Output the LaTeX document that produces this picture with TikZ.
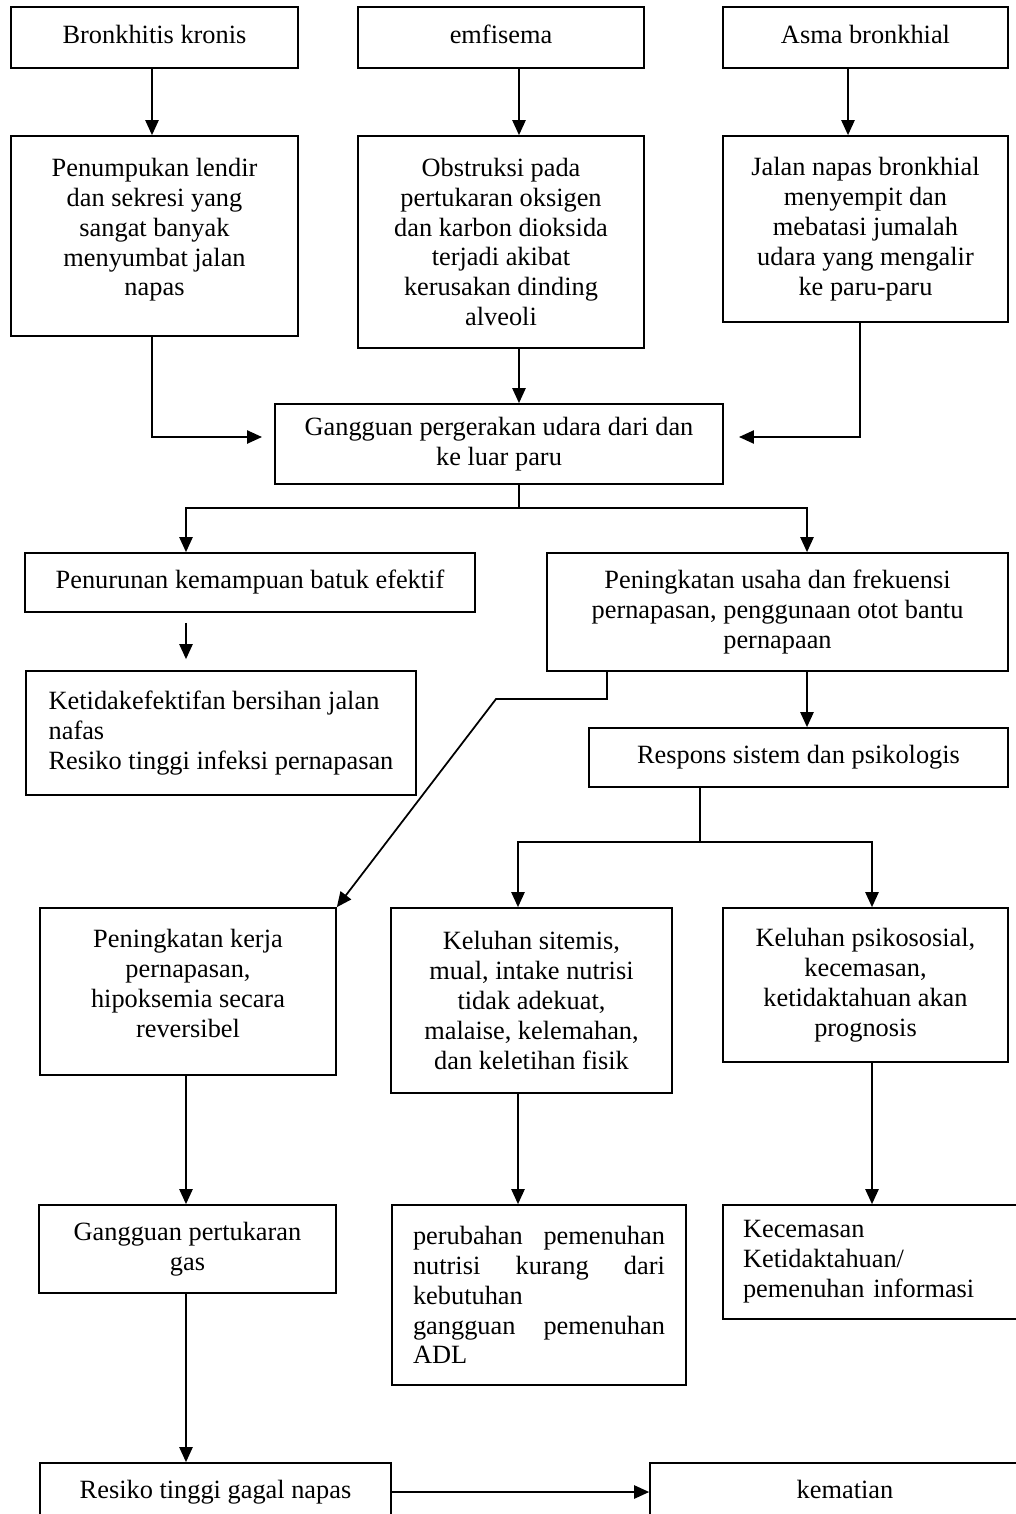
\documentclass[tikz,border=0pt]{standalone}
\usepackage{fontspec}
\setmainfont{Liberation Serif}
\usepackage{tikz}
\usetikzlibrary{arrows.meta,calc,positioning}

\tikzset{
  box/.style={draw, line width=1pt, align=center, inner sep=0pt,
    font=\fontsize{15}{17}\selectfont},
  lbox/.style={box, align=left, inner xsep=0.4cm},
  one/.style={text height=10.5pt, text depth=3.5pt},
  arr/.style={line width=1pt, -{Triangle[length=8.5pt,width=7.5pt]}}
}
\newcommand{\lift}[1]{\rule[-#1]{0pt}{#1}}

\begin{document}
\begin{tikzpicture}[x=0.02cm, y=-0.02cm]
\useasboundingbox (0,0) rectangle (1016,1514);

% causes
\node[box, one, minimum width=5.74cm, minimum height=1.22cm] (b1) at (154.5,37.5) {Bronkhitis kronis};
\node[box, one, minimum width=5.72cm, minimum height=1.22cm] (b2) at (501,37.5) {emfisema};
\node[box, one, minimum width=5.70cm, minimum height=1.22cm] (b3) at (865.5,37.5) {Asma bronkhial};

\node[box, minimum width=5.74cm, minimum height=4.0cm] (c1) at (154.5,236)
  {Penumpukan lendir\\dan sekresi yang\\sangat banyak\\menyumbat jalan\\napas\lift{0.36cm}};
\node[box, minimum width=5.72cm, minimum height=4.24cm] (c2) at (501,242)
  {Obstruksi pada\\pertukaran oksigen\\dan karbon dioksida\\terjadi akibat\\kerusakan dinding\\alveoli};
\node[box, minimum width=5.70cm, minimum height=3.72cm] (c3) at (865.5,229)
  {Jalan napas bronkhial\\menyempit dan\\mebatasi jumalah\\udara yang mengalir\\ke paru-paru};

\node[box, minimum width=8.96cm, minimum height=1.6cm] (d) at (499,444)
  {Gangguan pergerakan udara dari dan\\ke luar paru};

% second level
\node[box, one, minimum width=9.0cm, minimum height=1.18cm] (e1) at (250,582.5)
  {Penurunan kemampuan batuk efektif};
\node[box, minimum width=9.22cm, minimum height=2.36cm] (e2) at (777.5,612)
  {Peningkatan usaha dan frekuensi\\pernapasan, penggunaan otot bantu\\pernapaan};
\node[box, align=left, minimum width=7.8cm, minimum height=2.48cm] (f1) at (221,733)
  {Ketidakefektifan bersihan jalan\\nafas\\Resiko tinggi infeksi pernapasan};
\node[box, one, minimum width=8.38cm, minimum height=1.18cm] (g) at (798.5,757.5)
  {Respons sistem dan psikologis};

% third level
\node[box, minimum width=5.92cm, minimum height=3.34cm] (h1) at (188,991.5)
  {Peningkatan kerja\\pernapasan,\\hipoksemia secara\\reversibel\lift{0.32cm}};
\node[box, minimum width=5.62cm, minimum height=3.70cm] (h2) at (531.5,1000.5)
  {Keluhan sitemis,\\mual, intake nutrisi\\tidak adekuat,\\malaise, kelemahan,\\dan keletihan fisik};
\node[box, minimum width=5.70cm, minimum height=3.08cm] (h3) at (865.5,985)
  {Keluhan psikososial,\\kecemasan,\\ketidaktahuan akan\\prognosis};

\node[box, minimum width=5.94cm, minimum height=1.76cm] (i1) at (187.5,1249)
  {Gangguan pertukaran\\gas};
\node[lbox, inner xsep=0.42cm, text width=5.04cm, minimum height=3.6cm] (i2) at (539,1295)
  {perubahan\hfill pemenuhan\\nutrisi\hfill kurang\hfill dari\\kebutuhan\\gangguan\hfill pemenuhan\\ADL};
\node[lbox, text width=5.34cm, minimum height=2.28cm] (i3) at (876.5,1262)
  {Kecemasan\\Ketidaktahuan/\\pemenuhan informasi};

\node[box, one, minimum width=7.02cm, minimum height=1.16cm] (j1) at (215.5,1492) {Resiko tinggi gagal napas};
\node[box, one, minimum width=7.8cm, minimum height=1.16cm] (j2) at (845,1492) {kematian};

% columns of the connectors
\coordinate (k1) at (152,0);
\coordinate (k2) at (519,0);
\coordinate (k3) at (848,0);
\coordinate (k3b) at (860,0);
\coordinate (kl) at (186,0);
\coordinate (kd) at (607,0);
\coordinate (ke) at (807,0);
\coordinate (kg) at (700,0);
\coordinate (km) at (518,0);
\coordinate (kr) at (872,0);
\coordinate (dl) at (262,437);
\coordinate (dr) at (739,437);
\coordinate (bend) at (496,699);

\draw[arr] (b1.south -| k1) -- (c1.north -| k1);
\draw[arr] (b2.south -| k2) -- (c2.north -| k2);
\draw[arr] (b3.south -| k3) -- (c3.north -| k3);

\draw[arr] (c1.south -| k1) |- (dl);
\draw[arr] (c2.south -| k2) -- (d.north -| k2);
\draw[arr] (c3.south -| k3b) |- (dr);

\draw[arr] (d.south -| k2) -- +(0,23) -| (e1.north -| kl);
\draw[arr] (d.south -| k2) -- +(0,23) -| (e2.north -| ke);

\draw[arr] ($(e1.south -| kl)+(0,10)$) -- ($(f1.north -| kl)+(0,-11)$);
\draw[arr] (e2.south -| ke) -- (g.north -| ke);
\draw[arr] (e2.south -| kd) |- (bend) -- (h1.north east);

\draw[arr] (g.south -| kg) -- +(0,54) -| (h2.north -| km);
\draw[arr] (g.south -| kg) -- +(0,54) -| (h3.north -| kr);

\draw[arr] (h1.south -| kl) -- (i1.north -| kl);
\draw[arr] (h2.south -| km) -- (i2.north -| km);
\draw[arr] (h3.south -| kr) -- (i3.north -| kr);

\draw[arr] (i1.south -| kl) -- (j1.north -| kl);
\draw[arr] (j1.east) -- (j2.west);
\end{tikzpicture}
\end{document}
